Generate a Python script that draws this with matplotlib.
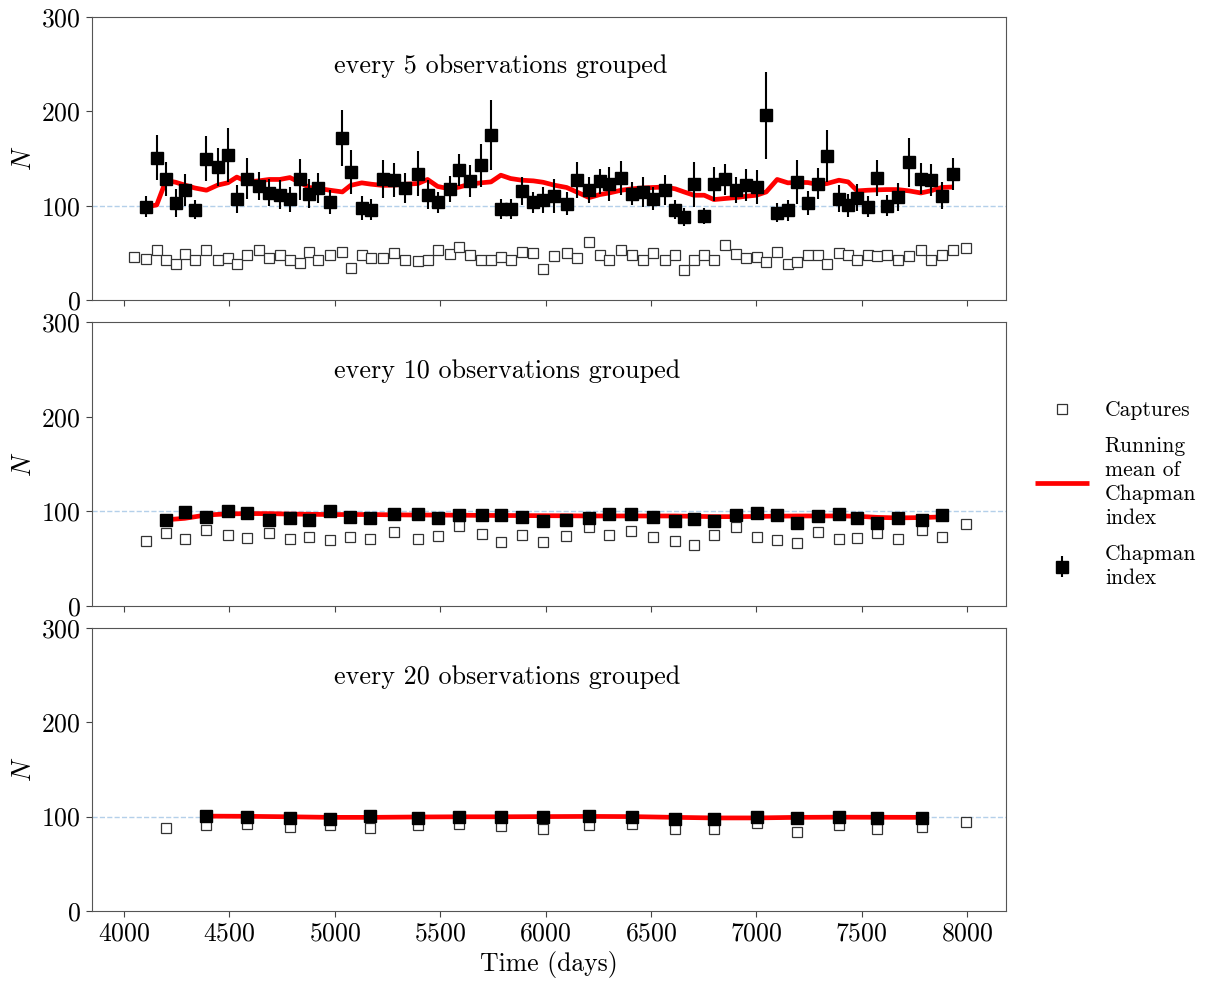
import numpy as np
import matplotlib
matplotlib.use('Agg')
import matplotlib.pyplot as plt

plt.rcParams['font.family'] = 'cmr10'
plt.rcParams['mathtext.fontset'] = 'cm'
plt.rcParams['axes.formatter.use_mathtext'] = True
plt.rcParams['axes.unicode_minus'] = False

# ---- every 5 observations grouped ----
t5 = [4049, 4104, 4155, 4199, 4245, 4289, 4335, 4391, 4444, 4493,
      4535, 4585, 4639, 4689, 4739, 4787, 4833, 4879, 4920, 4977,
      5036, 5075, 5128, 5172, 5227, 5282, 5334, 5395, 5440, 5488,
      5546, 5591, 5641, 5692, 5741, 5788, 5834, 5887, 5942, 5989,
      6040, 6100, 6150, 6207, 6258, 6302, 6359, 6408, 6461, 6511,
      6568, 6616, 6657, 6704, 6753, 6799, 6851, 6903, 6951, 7001,
      7047, 7099, 7150, 7194, 7245, 7294, 7336, 7392, 7436, 7479,
      7529, 7575, 7619, 7670, 7725, 7781, 7828, 7879, 7933, 7993]
cap5 = [45.9, 43.5, 53, 42.4, 38, 49.5, 42.4, 53.7, 43, 45.2,
        38, 47.7, 53.7, 45.2, 47.7, 42.4, 39.5, 51.6, 42.4, 47.7,
        51.6, 34.6, 48.4, 45.2, 45.2, 50.5, 42.4, 41.7, 43, 53,
        49.5, 56.5, 47.7, 43, 43, 45.9, 43, 51.6, 50.5, 33.6,
        46.6, 50.5, 45.2, 61.8, 48.4, 43, 53.7, 48.4, 43, 50.5,
        42.4, 48.4, 32.5, 42.4, 48.4, 43, 59, 49.5, 45.2, 45.9,
        40.6, 50.9, 38, 40.6, 48.4, 48.4, 38, 50.5, 47.7, 43,
        48.4, 46.6, 47.7, 42.4, 46.6, 53, 43, 48.4, 53, 55.9]
chap5 = [99, 151, 128, 103, 116.6, 96, 150, 141, 154, 107,
         129, 121, 114, 112, 107, 128, 113, 119, 104, 172,
         136, 98, 96, 128.6, 127.6, 119, 134, 112, 104, 118,
         138, 126.5, 143, 174.6, 96.8, 96.8, 115.5, 104, 106, 110,
         102.5, 127, 116.6, 126, 123.7, 129.7, 113, 114.8, 107.8, 116.6,
         96, 88.3, 123, 89.8, 123, 128, 116.6, 122, 119.5, 195.8,
         93, 95.4, 125.4, 103, 123.7, 153, 107.8, 100.7, 108.8, 99,
         130, 100.4, 109.5, 146, 129, 127, 111, 134]
err5 = [11, 24, 18, 15, 17, 10, 24, 20, 29, 15,
        22, 15, 14, 15, 13, 22, 15, 16, 13, 30,
        23, 13, 11, 20, 18, 16, 24, 15, 11, 14,
        17, 17, 23, 37, 11, 11, 15, 11, 14, 18,
        12, 19, 13.5, 13, 18, 18, 12, 15.5, 12, 16,
        10, 10, 24, 8.5, 18, 16, 13.5, 17, 18, 46,
        10, 11, 23, 13, 16, 27.5, 14, 12, 14, 11,
        19, 11, 15, 26, 16, 17, 14, 17]
rm5 = [99, 101, 127, 125, 122, 119, 116.6, 122, 124.5, 130.5,
       125.4, 126.5, 128, 128, 130, 125, 119.5, 118.5, 116.6, 114.8,
       121.7, 124.4, 123, 121.7, 122, 123, 123.7, 128, 120.6, 118,
       120, 123, 124.4, 125.4, 132.5, 129, 127.2, 126.5, 125, 122,
       119.5, 114.5, 108.8, 112, 113.7, 116.6, 118, 119, 119.5, 120,
       118, 114.8, 111.3, 111.3, 106.7, 107.8, 108.8, 110.2, 111.3, 114.8,
       128, 124.4, 125, 124.7, 122.6, 123.7, 127.2, 125.4, 115.9, 116.6,
       117, 117.3, 117.3, 115.9, 113.7, 116, 119.5, 120]

# ---- every 10 observations grouped ----
t10 = [4103, 4199, 4288, 4389, 4492, 4583, 4689, 4787, 4879, 4977,
       5073, 5168, 5282, 5396, 5490, 5591, 5697, 5788, 5887, 5989,
       6098, 6206, 6302, 6406, 6509, 6614, 6705, 6797, 6903, 7001,
       7099, 7194, 7294, 7392, 7479, 7575, 7670, 7784, 7879, 7993]
cap10 = [68.9, 77, 70.3, 80.6, 74.9, 72.1, 77, 70.3, 72.4, 69.6,
         72.8, 70.3, 77.7, 70.3, 73.5, 84.5, 75.6, 67.8, 75.3, 67.8,
         73.9, 83, 75.3, 79.2, 72.8, 68.9, 64.7, 75.3, 83, 72.8,
         69.2, 66.8, 78.1, 70.7, 72.1, 77, 70.7, 80.2, 72.8, 86.9]
chap10 = [91.2, 98.9, 94.3, 100.7, 97.9, 90.8, 92.6, 90.5, 100, 94.3,
          92.6, 97.2, 97.2, 93.3, 95.8, 96.5, 95.8, 94.3, 89.4, 91.2,
          93, 97.2, 97.2, 94.3, 89.8, 91.9, 90.1, 95.8, 97.9, 96.5,
          87.3, 95.1, 97.2, 93, 87.3, 93, 91.2, 95.8]
rm10 = [91, 92.5, 96, 97.2, 97.5, 97.5, 97, 96.8, 96.5, 96.5,
        96.5, 96.2, 96, 96, 95.8, 95.6, 95.5, 95.4, 95.3, 95.2,
        95, 95, 95, 95, 95, 94.6, 94.3, 94.3, 94.5, 94.8,
        95, 95, 95, 94.7, 93.5, 93, 93.3, 94]

# ---- every 20 observations grouped ----
t20 = [4198, 4389, 4583, 4786, 4977, 5168, 5395, 5591, 5788, 5986,
       6207, 6408, 6614, 6797, 7001, 7194, 7392, 7575, 7784, 7993]
cap20 = [88.3, 90.8, 91.9, 89.4, 91.2, 88, 91.5, 91.9, 90.1, 86.9,
         91.2, 92.2, 86.9, 86.9, 93.6, 84, 91.5, 86.9, 89.4, 94.7]
chap20 = [100.7, 100, 98.9, 97.2, 100.7, 98.9, 100, 99.3, 100, 100.7,
          100, 97.2, 97.2, 100, 98.9, 100, 98.9, 98.5]
rm20 = [100.5, 100.3, 99.8, 99.2, 99.2, 99.6, 99.8, 99.8, 100, 100.2,
        100, 99.2, 98.6, 98.6, 99.2, 99.4, 99.3, 99.2]

titles = ["every 5 observations grouped",
          "every 10 observations grouped",
          "every 20 observations grouped"]

fig, axes = plt.subplots(3, 1, figsize=(12.06, 9.83), dpi=100, sharex=True)
fig.subplots_adjust(left=0.0763, right=0.8342, bottom=0.0732, top=0.9827, hspace=0.0777)

panels = [(t5, cap5, chap5, err5, rm5),
          (t10, cap10, chap10, None, rm10),
          (t20, cap20, chap20, None, rm20)]

for ax, (t, cap, chap, err, rm), title in zip(axes, panels, titles):
    t = np.array(t)
    ax.axhline(100, color='#b4d0ea', ls='--', lw=1.0, zorder=1)
    ax.plot(t, cap, ls='none', marker='s', ms=6.8, mfc='white', mec='#333333',
            mew=0.9, label='Captures', zorder=2)
    ax.plot(t[1:-1], rm, color='red', lw=3.4, solid_capstyle='butt',
            label='Running\nmean of\nChapman\nindex', zorder=3)
    ax.errorbar(t[1:-1], chap, yerr=err, fmt='s', color='black', ms=8,
                ecolor='black', elinewidth=1.5, capsize=0,
                label='Chapman\nindex', zorder=4)
    ax.text(0.2648, 0.827, title, transform=ax.transAxes, ha='left', va='center',
            fontsize=18.8)
    ax.set_ylim(0, 300)
    ax.set_yticks([0, 100, 200, 300])
    ax.set_ylabel('$N$', fontsize=19)
    ax.tick_params(labelsize=18.5, length=4.5, width=0.8, color='#444444')
    for sp in ax.spines.values():
        sp.set_color('#555555')
        sp.set_linewidth(0.8)

axes[-1].set_xlim(3848, 8185)
axes[-1].set_xticks(np.arange(4000, 8001, 500))
axes[-1].set_xlabel('Time (days)', fontsize=18.5)

handles, labels = axes[0].get_legend_handles_labels()
leg = fig.legend(handles, labels, loc='center left', bbox_to_anchor=(0.842, 0.497),
                 frameon=False, fontsize=15.5, handlelength=2.5, labelspacing=0.75,
                 handletextpad=0.75)
for txt in leg.get_texts():
    txt.set_linespacing(1.3)

plt.savefig('out.png', dpi=100)
